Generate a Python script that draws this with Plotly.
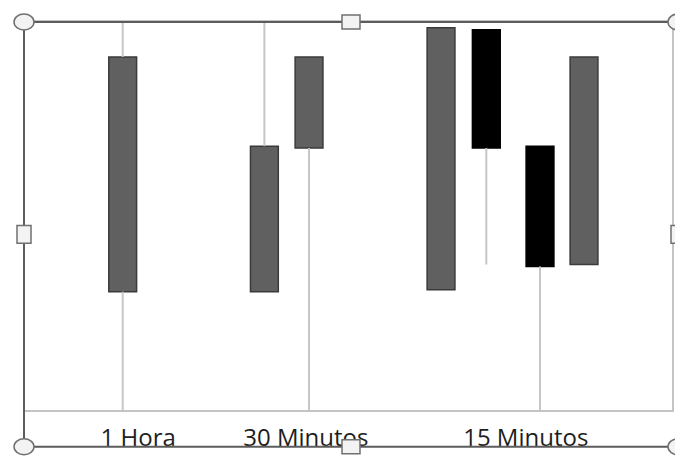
import plotly.graph_objects as go

# ---- data (value units: 0 = category axis, 100 = top of plot) ----
x_pos = [15.1, 37.0, 43.9, 64.3, 71.3, 79.6, 86.4]
open_ = [30.5, 30.5, 67.5, 31.0, 98.0, 68.0, 37.5]
close = [91.0, 68.0, 91.0, 98.5, 67.5, 37.0, 91.0]
high = [100.0, 100.0, 91.0, 98.5, 98.0, 68.0, 91.0]
low = [0.0, 30.5, 0.0, 31.0, 37.5, 0.0, 37.5]
tick_pos = [17.5, 43.4, 77.4]
tick_text = ["1 Hora", "30 Minutos", "15 Minutos"]

W, H = 683, 457
OFF = 8  # page body margin of the html page
ML, MT = 25 - OFF, 22 - OFF
PW, PH = 647, 390
MR, MB = W - ML - PW, H - MT - PH

UP_FILL, UP_LINE = "#606060", "#3a3a3a"
DN_FILL, DN_LINE = "#000000", "#000000"
WICK = "#c6c6c6"

fig = go.Figure()

# wicks (only the parts outside the bodies)
wx, wy = [], []
for xp, o, c, h, l in zip(x_pos, open_, close, high, low):
    top, bot = max(o, c), min(o, c)
    if h > top:
        wx += [xp, xp, None]
        wy += [top, h, None]
    if l < bot:
        wx += [xp, xp, None]
        wy += [l, bot, None]
fig.add_trace(go.Scatter(x=wx, y=wy, mode="lines",
                         line=dict(color=WICK, width=2),
                         hoverinfo="skip", showlegend=False))

# bodies
base = [min(o, c) for o, c in zip(open_, close)]
height = [abs(c - o) for o, c in zip(open_, close)]
fills = [UP_FILL if c >= o else DN_FILL for o, c in zip(open_, close)]
lines = [UP_LINE if c >= o else DN_LINE for o, c in zip(open_, close)]
fig.add_trace(go.Bar(x=x_pos, y=height, base=base, width=4.3,
                     marker=dict(color=fills, line=dict(color=lines, width=1.5)),
                     showlegend=False))


def px_x(p):
    return (p - OFF - ML) / PW


def px_y(p):
    return (MT + PH - (p - OFF)) / PH


shapes = []
FRAME = "#5c5c5c"
L, R, T, B = 24, 678, 22, 449
for x0, y0, x1, y1 in [(L, T, R, T), (L, B, R, B), (L, T, L, B), (R, T, R, B)]:
    shapes.append(dict(type="line", xref="paper", yref="paper",
                       x0=px_x(x0), y0=px_y(y0), x1=px_x(x1), y1=px_y(y1),
                       line=dict(color=FRAME, width=2), layer="above"))

# selection handles
for cx, cy in [(L, T), (R, T), (L, B), (R, B)]:
    shapes.append(dict(type="circle", xref="paper", yref="paper",
                       x0=px_x(cx - 10), x1=px_x(cx + 10),
                       y0=px_y(cy - 8), y1=px_y(cy + 8),
                       fillcolor="#f3f3f3", line=dict(color="#707070", width=1.5),
                       layer="above"))
mid_x = (L + R) / 2
mid_y = (T + B) / 2
for cx, cy, hw, hh in [(mid_x, T, 9, 7), (mid_x, B, 9, 7), (L, mid_y, 7, 9), (R, mid_y, 7, 9)]:
    shapes.append(dict(type="rect", xref="paper", yref="paper",
                       x0=px_x(cx - hw), x1=px_x(cx + hw),
                       y0=px_y(cy - hh), y1=px_y(cy + hh),
                       fillcolor="#f3f3f3", line=dict(color="#707070", width=1.5),
                       layer="above"))

fig.update_layout(
    width=W, height=H,
    margin=dict(l=ML, r=MR, t=MT, b=MB, pad=0),
    paper_bgcolor="white", plot_bgcolor="white",
    barmode="overlay",
    shapes=shapes,
    xaxis=dict(range=[0, 100], showgrid=False, zeroline=False,
               showline=True, mirror=True, linecolor="#c4c4c4", linewidth=1.5,
               tickmode="array", tickvals=tick_pos, ticktext=tick_text,
               ticks="", ticklabelstandoff=5,
               tickfont=dict(family="Open Sans", size=24, color="#1e1e1e"),
               fixedrange=True),
    yaxis=dict(range=[0, 100], showgrid=False, zeroline=False,
               showline=True, mirror=True, linecolor="#c4c4c4", linewidth=1.5,
               showticklabels=False, ticks="", fixedrange=True),
)

fig.write_html("out.html")
